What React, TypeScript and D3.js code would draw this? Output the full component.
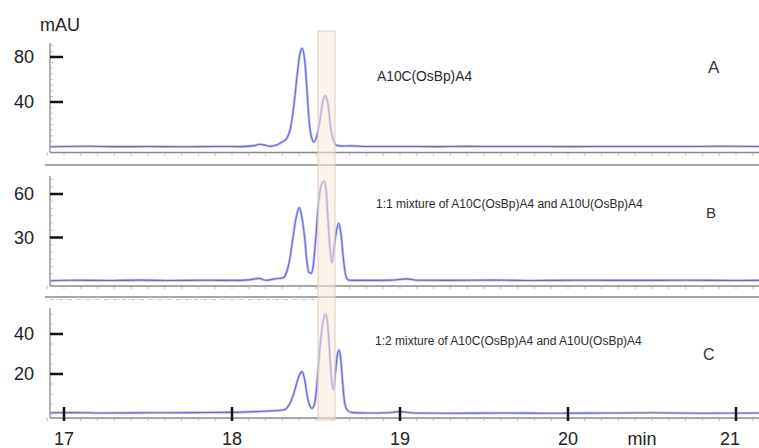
import React from "react";
import * as d3 from "d3";

// ---- Data ----
const timesA = [16.92, 17.0, 17.15, 17.3, 17.5, 17.7, 17.9, 18.05, 18.13, 18.167, 18.2, 18.226, 18.26, 18.286, 18.31, 18.326, 18.345, 18.365, 18.385, 18.401, 18.417, 18.433, 18.445, 18.457, 18.472, 18.488, 18.504, 18.524, 18.54, 18.555, 18.571, 18.587, 18.603, 18.623, 18.65, 18.7, 18.74, 18.8, 19.0, 19.2, 19.4, 19.6, 19.8, 20.0, 20.3, 20.6, 20.9, 21.14];
const valuesA = [0.2, 0.5, 0.6, 0.3, 0.4, 0.2, 0.5, 0.3, 1.2, 2.5, 1.5, 0.6, 1.5, 3.3, 5.5, 7.7, 15, 33, 59.8, 80.3, 87.7, 77, 53.6, 27, 9.2, 4.7, 9.2, 24, 40.3, 45.6, 38.8, 17.9, 6.2, 1.5, 0.8, 1.0, 0.8, 0.4, 0.5, 0.3, 0.6, 0.4, 0.5, 0.3, 0.5, 0.4, 0.6, 0.5];

const timesB = [16.92, 17.05, 17.25, 17.45, 17.65, 17.85, 18.0, 18.1, 18.16, 18.2, 18.26, 18.305, 18.326, 18.345, 18.365, 18.385, 18.401, 18.417, 18.433, 18.445, 18.457, 18.472, 18.484, 18.5, 18.516, 18.532, 18.548, 18.56, 18.571, 18.583, 18.595, 18.607, 18.623, 18.635, 18.647, 18.659, 18.671, 18.683, 18.698, 18.722, 18.8, 18.95, 19.04, 19.1, 19.3, 19.55, 19.8, 20.1, 20.4, 20.7, 21.0, 21.14];
const valuesB = [0.2, 0.5, 0.3, 0.6, 0.3, 0.5, 0.4, 0.8, 1.8, 0.5, 1.5, 2.3, 6.4, 15.6, 31.7, 45.5, 50.6, 43.2, 29.4, 14.5, 6, 5.3, 11, 31.7, 54.7, 66.2, 69, 62.8, 43.2, 22.6, 12.6, 22.6, 35.2, 39.8, 34, 20.2, 7.6, 1.9, 0.5, 0.4, 0.4, 0.6, 1.5, 0.5, 0.4, 0.6, 0.3, 0.5, 0.4, 0.5, 0.3, 0.4];

const timesC = [16.92, 17.05, 17.25, 17.5, 17.75, 18.0, 18.15, 18.226, 18.305, 18.345, 18.365, 18.385, 18.401, 18.417, 18.433, 18.448, 18.464, 18.476, 18.492, 18.508, 18.524, 18.54, 18.555, 18.567, 18.579, 18.591, 18.603, 18.615, 18.627, 18.637, 18.647, 18.659, 18.671, 18.686, 18.713, 18.8, 18.92, 19.0, 19.08, 19.3, 19.6, 19.9, 20.2, 20.5, 20.8, 21.14];
const valuesC = [0.6, 0.7, 0.5, 0.6, 0.7, 0.8, 1.2, 1.5, 2, 5.3, 9.5, 15.3, 19.5, 21.2, 17, 8.7, 4, 2.8, 5.3, 17, 33.7, 45.3, 50, 47, 33.7, 18.7, 12, 20.3, 29.5, 32, 27.8, 15.3, 5.3, 2, 0.7, 0.5, 0.6, 1.2, 0.5, 0.4, 0.5, 0.4, 0.5, 0.6, 0.4, 0.5];

const panelLetters = ["A", "B", "C"];
const panelTitles = [
  "A10C(OsBp)A4",
  "1:1 mixture of A10C(OsBp)A4  and A10U(OsBp)A4",
  "1:2 mixture of A10C(OsBp)A4 and A10U(OsBp)A4",
];
const yTicksA = [40, 80];
const yTicksB = [30, 60];
const yTicksC = [20, 40];
const xTicks = [17, 18, 19, 20, 21];
const bandRange = [18.512, 18.613];

const FONT = "'Liberation Sans', Arial, Helvetica, sans-serif";

export default function App() {
  const W = 759;
  const H = 448;
  const x = d3.scaleLinear().domain([17, 21]).range([64, 736]);

  const panels = [
    { times: timesA, values: valuesA, ticks: yTicksA, y: d3.scaleLinear().domain([0, 80]).range([147, 57]), top: 43, bottom: 152.5, titleX: 377, titleY: 81, titleSize: 13.8, letterX: 708, letterY: 73, letterSize: 17 },
    { times: timesB, values: valuesB, ticks: yTicksB, y: d3.scaleLinear().domain([0, 60]).range([281, 194]), top: 176, bottom: 286, titleX: 376, titleY: 208, titleSize: 12, letterX: 706, letterY: 218, letterSize: 15 },
    { times: timesC, values: valuesC, ticks: yTicksC, y: d3.scaleLinear().domain([0, 40]).range([414, 334]), top: 308, bottom: 418, titleX: 375, titleY: 345, titleSize: 12, letterX: 703, letterY: 360, letterSize: 16 },
  ];

  const minorX = d3.range(169, 212).map((d) => d / 10);

  return (
    <svg
      width={W}
      height={H}
      style={{ position: "absolute", left: 0, top: 0, background: "#fff" }}
      fontFamily={FONT}
    >
      <rect x={0} y={0} width={W} height={H} fill="#fff" />
      <text x={40} y={31} fontSize={18} fill="#222">mAU</text>

      {/* separators */}
      <line x1={45} x2={W} y1={165} y2={165} stroke="#8a8a8a" strokeWidth={1.5} />
      <line x1={45} x2={W} y1={297} y2={297} stroke="#8a8a8a" strokeWidth={1.5} />
      <line x1={50} x2={316} y1={299.5} y2={299.5} stroke="#c4c4d4" strokeWidth={1} strokeDasharray="4 2 1 2" />

      {panels.map((p, i) => {
        const line = d3
          .line<number>()
          .x((_, k) => x(p.times[k]))
          .y((v) => p.y(v))
          .curve(d3.curveMonotoneX);
        const minorY = d3.range(0, p.y.invert(p.top) + 0.01, 5);
        return (
          <g key={i}>
            {/* y axis */}
            <line x1={50} x2={50} y1={p.top} y2={p.bottom} stroke="#9a9a9a" strokeWidth={1.5} />
            {minorY.map((v) => (
              <line key={v} x1={50} x2={53} y1={p.y(v)} y2={p.y(v)} stroke="#b0b0b0" strokeWidth={0.8} />
            ))}
            {/* bottom axis */}
            <line x1={50} x2={W} y1={p.bottom} y2={p.bottom} stroke="#8a8a8a" strokeWidth={1.5} />
            {minorX.map((t) => (
              <line key={t} x1={x(t)} x2={x(t)} y1={p.bottom} y2={p.bottom + 3} stroke="#aaa" strokeWidth={0.8} />
            ))}
            {/* trace */}
            <path d={line(p.values) || ""} fill="none" stroke="#bdbdf3" strokeWidth={2.6} strokeLinejoin="round" />
            <path d={line(p.values) || ""} fill="none" stroke="#6868dc" strokeWidth={1.1} strokeLinejoin="round" />
            {/* y ticks */}
            {p.ticks.map((v) => (
              <g key={v}>
                <line x1={50} x2={63} y1={p.y(v)} y2={p.y(v)} stroke="#111" strokeWidth={2.5} />
                <text x={34} y={p.y(v)} dy="0.35em" textAnchor="end" fontSize={18} fill="#222">
                  {v}
                </text>
              </g>
            ))}
            <text x={p.titleX} y={p.titleY} fontSize={p.titleSize} fill="#2a2a2a">
              {panelTitles[i]}
            </text>
            <text x={p.letterX} y={p.letterY} fontSize={p.letterSize} fill="#333">
              {panelLetters[i]}
            </text>
          </g>
        );
      })}

      {/* highlight band */}
      <rect
        x={x(bandRange[0])}
        y={31}
        width={x(bandRange[1]) - x(bandRange[0])}
        height={389}
        fill="rgb(252,234,218)"
        fillOpacity={0.55}
        stroke="#dccbbb"
        strokeWidth={1}
      />

      {/* major x ticks on bottom panel */}
      {xTicks.map((t) => (
        <g key={t}>
          <line x1={x(t)} x2={x(t)} y1={407} y2={421} stroke="#111" strokeWidth={2.5} />
          <text x={x(t) - (t === 21 ? 6 : 0)} y={445} textAnchor="middle" fontSize={18} fill="#222">
            {t}
          </text>
        </g>
      ))}
      <text x={642} y={445} textAnchor="middle" fontSize={18} fill="#222">min</text>
    </svg>
  );
}
